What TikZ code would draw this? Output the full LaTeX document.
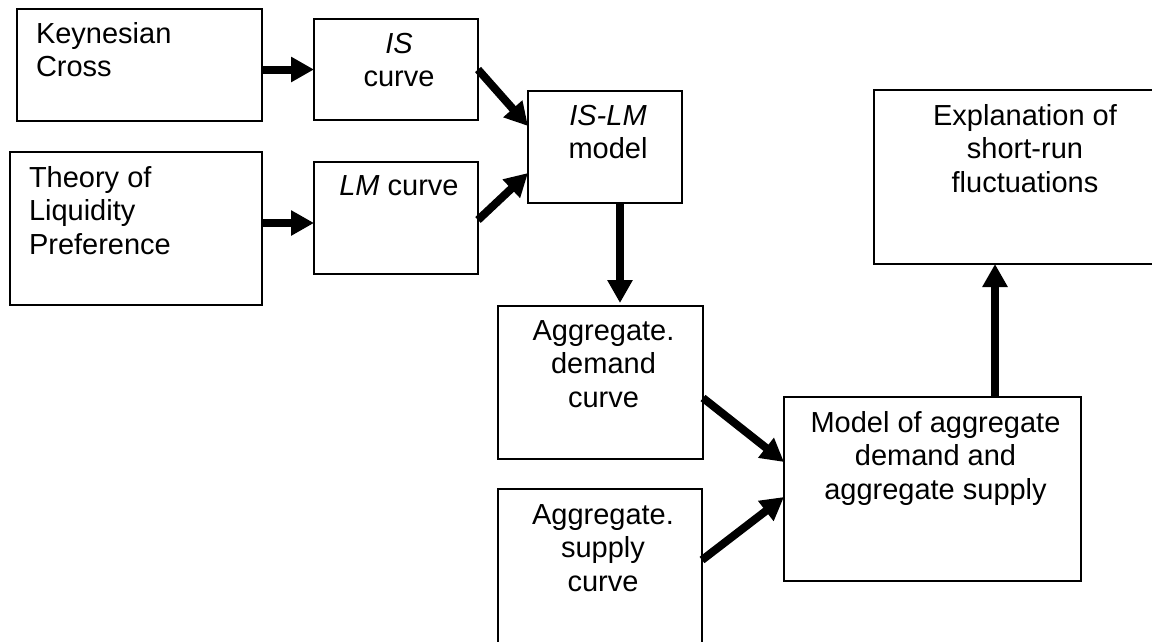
\documentclass[tikz,border=0pt]{standalone}
\usepackage{fontspec}
\setmainfont{Liberation Sans}
\usetikzlibrary{arrows.meta}
\newcommand{\bxc}[4]{\parbox[t][#2pt][t]{#1pt}{\centering\leftskip=6pt plus 1fil\rule{0pt}{#3pt}#4\par}}
\newcommand{\bxl}[4]{\parbox[t][#2pt][t]{#1pt}{\raggedright\leftskip=19pt\rule{0pt}{#3pt}#4\par}}
\begin{document}
\begin{tikzpicture}[x=1pt,y=-1pt,
  box/.style={draw, line width=1.6pt, inner sep=0pt, outer sep=0pt, anchor=north west,
    font=\fontsize{29}{33.5}\selectfont},
  arr/.style={line width=8pt, -{Triangle[length=23pt,width=24pt]}}]
\useasboundingbox (0,0) rectangle (1152,641);
\clip (0,0) rectangle (1152,641);

\node[box] (kc) at (17,9) {\bxl{245}{112}{34}{Keynesian\\Cross}};
\node[box] (is) at (314,19) {\bxc{164}{101}{34}{\textit{IS}\\curve}};
\node[box] (th) at (10,152) {\bxl{252}{153}{35}{Theory of\\Liquidity\\Preference}};
\node[box] (lm) at (314,162) {\bxc{164}{112}{33}{\textit{LM} curve}};
\node[box] (islm) at (528,91) {\bxc{154}{112}{34}{\textit{IS-LM}\\model}};
\node[box] (ad) at (498,306) {\bxc{205}{153}{34}{Aggregate.\\demand\\curve}};
\node[box] (asc) at (498,489) {\bxc{204}{180}{35}{Aggregate.\\supply\\curve}};
\node[box] (model) at (784,397) {\bxc{297}{184}{35}{Model of aggregate\\demand and\\aggregate supply}};
\node[box] (ex) at (874,90) {\bxc{296}{174}{35}{Explanation of\\short-run\\fluctuations}};

\draw[arr] (kc.east |- is.west) -- (is.west);
\coordinate (a) at ([yshift=-5pt]lm.west);
\draw[arr] (a -| th.east) -- (a);
\draw[arr] (is.east) -- ([yshift=-35pt]islm.north west);
\draw[arr] ([yshift=-2pt]lm.east) -- ([yshift=30pt]islm.south west);
\coordinate (b) at ([xshift=15pt]islm.south);
\coordinate (c) at ([yshift=3pt]ad.north);
\draw[arr] (b) -- (b |- c);
\draw[arr] ([yshift=-15.5pt]ad.east) -- ([yshift=27pt]model.west);
\draw[arr] ([yshift=-71pt]asc.north east) -- ([yshift=-8pt]model.west);
\coordinate (m) at ([xshift=62.5pt]model.north);
\draw[arr] (m) -- (m |- ex.south);
\end{tikzpicture}
\end{document}
